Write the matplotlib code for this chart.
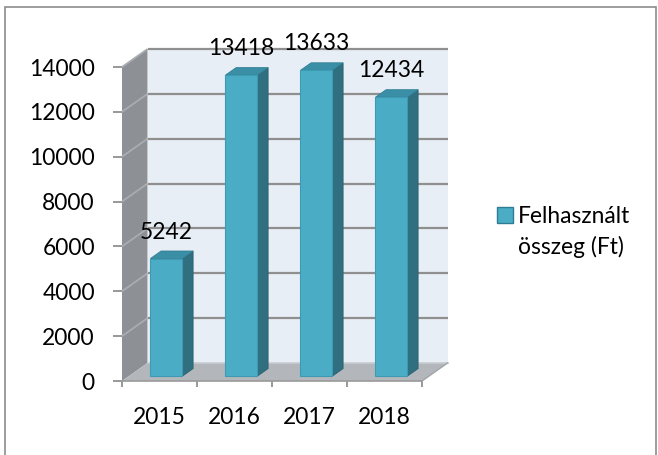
import matplotlib
matplotlib.use("Agg")
import matplotlib.pyplot as plt
from matplotlib.patches import Polygon, Rectangle

# ---- data ----
categories = ["2015", "2016", "2017", "2018"]
values = [5242, 13418, 13633, 12434]
series_name = "Felhasznált összeg (Ft)"
yticks = [0, 2000, 4000, 6000, 8000, 10000, 12000, 14000]

# ---- style ----
FONT = "Lato"
FS = 16.4
plt.rcParams["font.family"] = [FONT, "DejaVu Sans"]

W, H = 658, 455
fig = plt.figure(figsize=(W / 100, H / 100), dpi=100)

# front plane of the pseudo-3D chart
left_px, right_px, bot_px, top_px = 122, 422, 381, 67
ax = fig.add_axes([left_px / W, (H - bot_px) / H, (right_px - left_px) / W, (bot_px - top_px) / H])
n = len(categories)
ymax = 14000
ax.set_xlim(-0.5, n - 0.5)
ax.set_ylim(0, ymax)
ax.patch.set_visible(False)

ux = n / (right_px - left_px)          # data units per pixel (x)
uy = ymax / (bot_px - top_px)          # data units per pixel (y)
DX, DY = 25.5 * ux, 18 * uy            # depth offset (back wall)

x0, x1 = -0.5, n - 0.5

# back wall
ax.add_patch(Polygon([(x0 + DX, DY), (x1 + DX, DY), (x1 + DX, ymax + DY), (x0 + DX, ymax + DY)],
                     closed=True, facecolor="#e8eef6", edgecolor="none", clip_on=False, zorder=1))
# side wall
ax.add_patch(Polygon([(x0, 0), (x0 + DX, DY), (x0 + DX, ymax + DY), (x0, ymax)],
                     closed=True, facecolor="#8d9196", edgecolor="none", clip_on=False, zorder=1))
# floor
ax.add_patch(Polygon([(x0, 0), (x1, 0), (x1 + DX, DY), (x0 + DX, DY)],
                     closed=True, facecolor="#b3b7bb", edgecolor="none", clip_on=False, zorder=1))

# gridlines on back wall and side wall
for v in yticks:
    if v > 0:
        ax.plot([x0 + DX, x1 + DX], [v + DY, v + DY], color="#8f8f8f", lw=1.6,
                clip_on=False, zorder=2, solid_capstyle="butt")
        ax.plot([x0, x0 + DX], [v, v + DY], color="#a9acb0", lw=1.3,
                clip_on=False, zorder=2, solid_capstyle="butt")
ax.plot([x0 + DX, x1 + DX], [DY, DY], color="#c8ccd0", lw=1.2, clip_on=False, zorder=2)
ax.plot([x1, x1 + DX], [0, DY], color="#a0a4a8", lw=1.0, clip_on=False, zorder=2)

# bars
F0 = 0.27      # front face depth fraction
DEP = 0.42     # bar depth fraction
BW = 32 * ux   # bar width
c_front, c_side, c_top = "#4bacc6", "#2f6f80", "#3a8fa6"
for i, v in enumerate(values):
    fx, fy = F0 * DX, F0 * DY
    bx, by = DEP * DX, DEP * DY
    xl = i - BW / 2 + fx
    xr = i + BW / 2 + fx
    yb = fy
    yt = v + fy
    # side
    ax.add_patch(Polygon([(xr, yb), (xr + bx, yb + by), (xr + bx, yt + by), (xr, yt)],
                         closed=True, facecolor=c_side, edgecolor="#2a6170", lw=0.6,
                         clip_on=False, zorder=3))
    # top
    ax.add_patch(Polygon([(xl, yt), (xr, yt), (xr + bx, yt + by), (xl + bx, yt + by)],
                         closed=True, facecolor=c_top, edgecolor="#327f94", lw=0.6,
                         clip_on=False, zorder=3))
    # front
    ax.add_patch(Rectangle((xl, yb), xr - xl, v, facecolor=c_front, edgecolor="#3d9ab3",
                           lw=0.8, clip_on=False, zorder=4))
    # value label
    ax.annotate(f"{v}", xy=(i + fx, yt), xytext=(0, 14.4), textcoords="offset points",
                ha="center", va="baseline", fontsize=FS, color="black", zorder=5,
                annotation_clip=False)

# axes / ticks
for s in ["left", "right", "top"]:
    ax.spines[s].set_visible(False)
ax.spines["bottom"].set_color("#9a9a9a")
ax.spines["bottom"].set_linewidth(1.2)
ax.spines["bottom"].set_zorder(2)

ax.set_yticks(yticks)
ax.set_yticklabels([str(t) for t in yticks])
ax.tick_params(axis="y", direction="out", length=6.5, width=1.2, color="#868686",
               pad=13, labelsize=FS, labelcolor="black")

ax.set_xticks(range(n))
ax.set_xticklabels(categories)
ax.set_xticks([k - 0.5 for k in range(n + 1)], minor=True)
ax.tick_params(axis="x", which="major", length=0, pad=18.5, labelsize=FS, labelcolor="black")
ax.tick_params(axis="x", which="minor", direction="out", length=4.5, width=1.2, color="#868686")

# legend (manual)
fig.patches.append(Rectangle((497 / W, 1 - 223 / H), 16 / W, 16 / H, transform=fig.transFigure,
                             facecolor=c_front, edgecolor="#2f7d92", lw=1.0))
fig.text(518 / W, 1 - 223 / H, "Felhasznált", fontsize=FS, va="baseline", ha="left")
fig.text(518 / W, 1 - 254 / H, "összeg (Ft)", fontsize=FS, va="baseline", ha="left")

# outer border
fig.patches.append(Rectangle((5 / W, -0.01), 651 / W, 1 - 7 / H + 0.01, transform=fig.transFigure,
                             facecolor="none", edgecolor="#8c8c8c", lw=1.2))

fig.savefig("out.png", dpi=100)
